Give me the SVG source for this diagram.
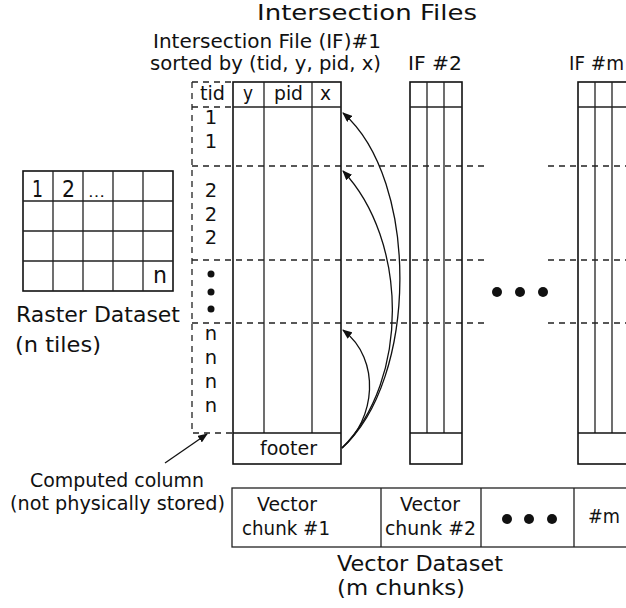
<svg xmlns="http://www.w3.org/2000/svg" width="626" height="608" viewBox="0 0 626 608">
<style>
text{font-family:"DejaVu Sans","Liberation Sans",sans-serif;fill:#111}
.s{fill:none;stroke:#111;stroke-width:1.6}
.i{fill:none;stroke:#222;stroke-width:1.3}
.d{fill:none;stroke:#222;stroke-width:1.3;stroke-dasharray:6 5}
.c{fill:none;stroke:#111;stroke-width:1.3}
</style>
<defs>
<marker id="ah" markerWidth="10" markerHeight="8" refX="9" refY="4" orient="auto" markerUnits="userSpaceOnUse">
<path d="M0,0 L10,4 L0,8 Z" fill="#111"/>
</marker>
</defs>
<rect width="626" height="608" fill="#fff"/>
<text x="257" y="20" font-size="22" textLength="220" lengthAdjust="spacingAndGlyphs">Intersection Files</text>

<g id="raster">
<rect x="23" y="171" width="150" height="120" class="s"/>
<path class="i" d="M53,171V291M83,171V291M113,171V291M143,171V291M23,201H173M23,231H173M23,261H173"/>
<text x="32" y="197" font-size="23" textLength="11" lengthAdjust="spacingAndGlyphs">1</text>
<text x="62" y="197" font-size="23" textLength="13" lengthAdjust="spacingAndGlyphs">2</text>
<text x="88" y="197" font-size="14" textLength="17" lengthAdjust="spacingAndGlyphs">…</text>
<text x="153" y="283" font-size="23" textLength="14" lengthAdjust="spacingAndGlyphs">n</text>
<text x="16" y="322" font-size="21.5" textLength="164" lengthAdjust="spacingAndGlyphs">Raster Dataset</text>
<text x="15" y="352" font-size="21.5" textLength="86" lengthAdjust="spacingAndGlyphs">(n tiles)</text>
</g>

<g id="grid-lines">
<path class="d" d="M192,166H487M548,166H626M192,260H487M548,260H626M192,323H487M548,323H626"/>
</g>

<g id="if1">
<text x="153" y="48" font-size="19.5" textLength="228" lengthAdjust="spacingAndGlyphs">Intersection File (IF)#1</text>
<text x="150" y="70" font-size="19.5" textLength="231" lengthAdjust="spacingAndGlyphs">sorted by (tid, y, pid, x)</text>
<path class="d" d="M192,82H233M192,82V433H233M192,107H233"/>
<rect x="233" y="82" width="108" height="382" class="s"/>
<path class="i" d="M264,82V433M312,82V433M233,107H341"/>
<path class="s" d="M233,433H341"/>
<text x="200" y="100" font-size="19.5" textLength="25" lengthAdjust="spacingAndGlyphs">tid</text>
<text x="243" y="100" font-size="19.5" textLength="10" lengthAdjust="spacingAndGlyphs">y</text>
<text x="274" y="100" font-size="19.5" textLength="29" lengthAdjust="spacingAndGlyphs">pid</text>
<text x="320" y="100" font-size="19.5" textLength="11" lengthAdjust="spacingAndGlyphs">x</text>
<g font-size="19.5" text-anchor="middle">
<text x="211" y="124">1</text>
<text x="211" y="148">1</text>
<text x="211" y="197">2</text>
<text x="211" y="221">2</text>
<text x="211" y="244">2</text>
<text x="211" y="340">n</text>
<text x="211" y="364">n</text>
<text x="211" y="388">n</text>
<text x="211" y="412">n</text>
</g>
<circle cx="211" cy="274" r="3.5" fill="#111"/>
<circle cx="211" cy="292" r="3.5" fill="#111"/>
<circle cx="211" cy="309" r="3.5" fill="#111"/>
<text x="260" y="455" font-size="19.5" textLength="57" lengthAdjust="spacingAndGlyphs">footer</text>
</g>

<g id="if2">
<text x="408" y="70" font-size="19.5" textLength="54" lengthAdjust="spacingAndGlyphs">IF #2</text>
<rect x="410" y="82" width="52" height="382" class="s"/>
<path class="i" d="M427,82V433M444,82V433M410,107H462"/>
<path class="s" d="M410,433H462"/>
</g>

<g id="ifm">
<text x="569" y="70" font-size="19.5" textLength="55" lengthAdjust="spacingAndGlyphs">IF #m</text>
<rect x="578" y="82" width="60" height="382" class="s"/>
<path class="i" d="M595,82V433M612,82V433M578,107H626"/>
<path class="s" d="M578,433H626"/>
</g>

<g id="if-ellipsis">
<circle cx="497" cy="292" r="5" fill="#111"/>
<circle cx="520" cy="292" r="5" fill="#111"/>
<circle cx="543" cy="292" r="5" fill="#111"/>
</g>

<g id="vector">
<rect x="232" y="488" width="410" height="59" fill="none" stroke="#222" stroke-width="1.3"/>
<path class="i" d="M381,488V547M481,488V547M574,488V547"/>
<text x="257" y="511" font-size="19.5" textLength="60" lengthAdjust="spacingAndGlyphs">Vector</text>
<text x="242" y="535" font-size="19.5" textLength="88" lengthAdjust="spacingAndGlyphs">chunk #1</text>
<text x="400" y="511" font-size="19.5" textLength="60" lengthAdjust="spacingAndGlyphs">Vector</text>
<text x="385" y="535" font-size="19.5" textLength="91" lengthAdjust="spacingAndGlyphs">chunk #2</text>
<circle cx="507" cy="519" r="5" fill="#111"/>
<circle cx="529" cy="519" r="5" fill="#111"/>
<circle cx="552" cy="519" r="5" fill="#111"/>
<text x="588" y="523" font-size="19.5" textLength="32" lengthAdjust="spacingAndGlyphs">#m</text>
<text x="337" y="571" font-size="21.5" textLength="166" lengthAdjust="spacingAndGlyphs">Vector Dataset</text>
<text x="337" y="595" font-size="21.5" textLength="128" lengthAdjust="spacingAndGlyphs">(m chunks)</text>
</g>

<g id="computed-label">
<text x="30" y="487" font-size="19.5" textLength="174" lengthAdjust="spacingAndGlyphs">Computed column</text>
<text x="10" y="510" font-size="19.5" textLength="215" lengthAdjust="spacingAndGlyphs">(not physically stored)</text>
</g>

<g id="connectors">
<path class="c" d="M342,448 C418,380 420,180 343,113" marker-end="url(#ah)"/>
<path class="c" d="M342,448 C410,380 408,240 343,171" marker-end="url(#ah)"/>
<path class="c" d="M342,448 C375,420 382,360 343,330" marker-end="url(#ah)"/>
<path class="c" d="M165,463 L207,434" marker-end="url(#ah)"/>
</g>
</svg>
